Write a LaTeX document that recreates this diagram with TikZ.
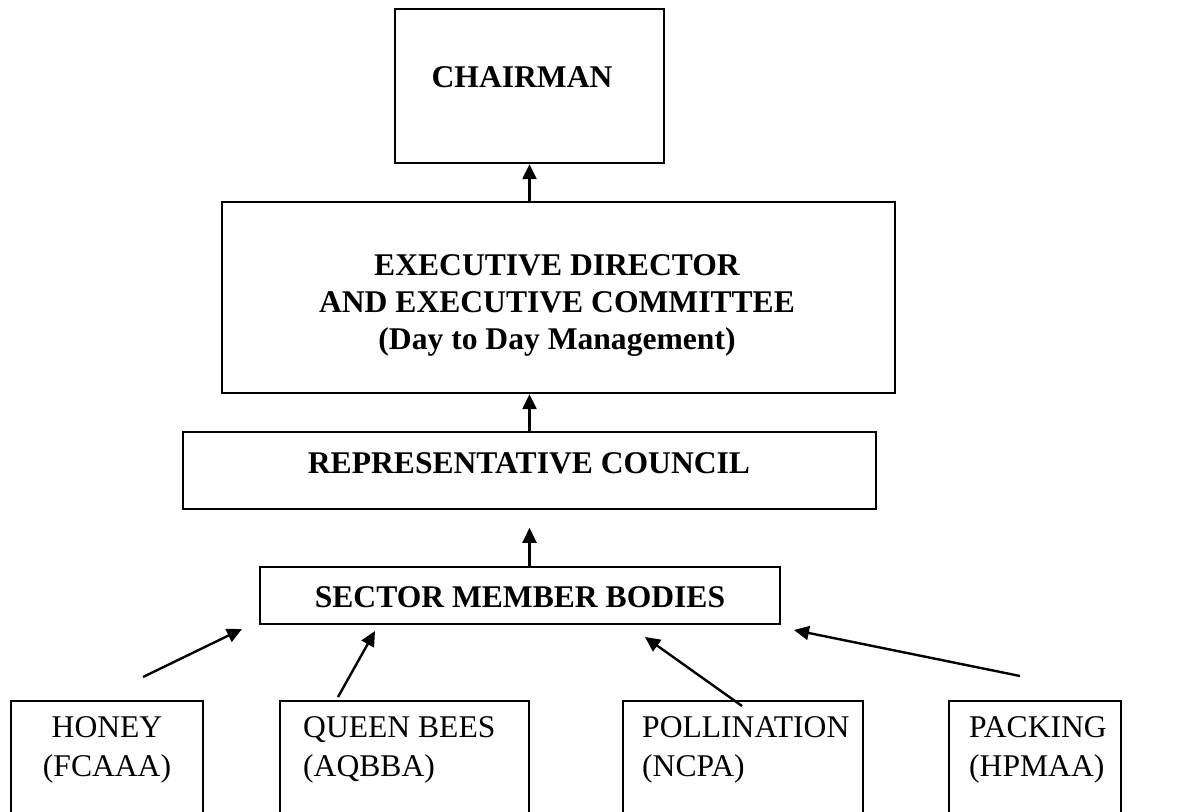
\documentclass[tikz,border=0pt]{standalone}
\usepackage{fontspec}
\setmainfont{Liberation Serif}
\usetikzlibrary{arrows.meta, fit}
\tikzset{>={Triangle[length=7.5pt, width=7pt]}}

\begin{document}
\begin{tikzpicture}[x=0.5pt, y=-0.5pt, line width=1.2pt,
  box/.style={draw, inner sep=0pt},
  head/.style={inner sep=0pt, align=center, font=\bfseries\fontsize{15.8}{18.5}\selectfont},
  body/.style={inner sep=0pt, align=left, anchor=west, font=\fontsize{15.8}{19.5}\selectfont}]
\useasboundingbox (0,0) rectangle (1184,812);
\clip (0,0) rectangle (1184,812);

% boxes
\node[box, fit={(395,9) (664,163)}] (chair) {};
\node[box, fit={(222,202) (895,393)}] (exec) {};
\node[box, fit={(183,432) (876,509)}] (rep) {};
\node[box, fit={(260,567) (780,624)}] (sector) {};
\node[box, fit={(11,701) (203,860)}] (honey) {};
\node[box, fit={(280,701) (529,860)}] (queen) {};
\node[box, fit={(623,701) (863,860)}] (poll) {};
\node[box, fit={(949,701) (1121,860)}] (pack) {};

% texts
\node[head] (chairtxt) at (522,77) {CHAIRMAN};
\node[head] (exectxt) at (557,306) {EXECUTIVE DIRECTOR\\AND EXECUTIVE COMMITTEE\\(Day to Day Management)};
\node[head] (reptxt) at (529,463) {REPRESENTATIVE COUNCIL};
\node[head] (sectortxt) at (520,597) {SECTOR MEMBER BODIES};
\node[body, anchor=center, align=center] (honeytxt) at (107,750) {HONEY\\(FCAAA)};
\node[body] (queentxt) at (302,750) {QUEEN BEES\\(AQBBA)};
\node[body] (polltxt) at (641,750) {POLLINATION\\(NCPA)};
\node[body] (packtxt) at (968,750) {PACKING\\(HPMAA)};

% loose arrow ends below the sector box
\coordinate (honeyfoot) at (143,677);  \coordinate (honeytip) at (242,629);
\coordinate (queenfoot) at (338,697);  \coordinate (queentip) at (375,631);
\coordinate (pollfoot) at (742,706);   \coordinate (polltip) at (645,637);
\coordinate (packfoot) at (1020,676);  \coordinate (packtip) at (794,630);

\draw[->] (chair.south |- exec.north) -- (chair.south);
\draw[->] (rep.north) -- (rep.north |- exec.south);
\draw[->] (sector.north -| rep.south) -- ++(0,-38);
\draw[->] (honeyfoot) -- (honeytip);
\draw[->] (queenfoot) -- (queentip);
\draw[->] (pollfoot) -- (polltip);
\draw[->] (packfoot) -- (packtip);
\end{tikzpicture}
\end{document}
